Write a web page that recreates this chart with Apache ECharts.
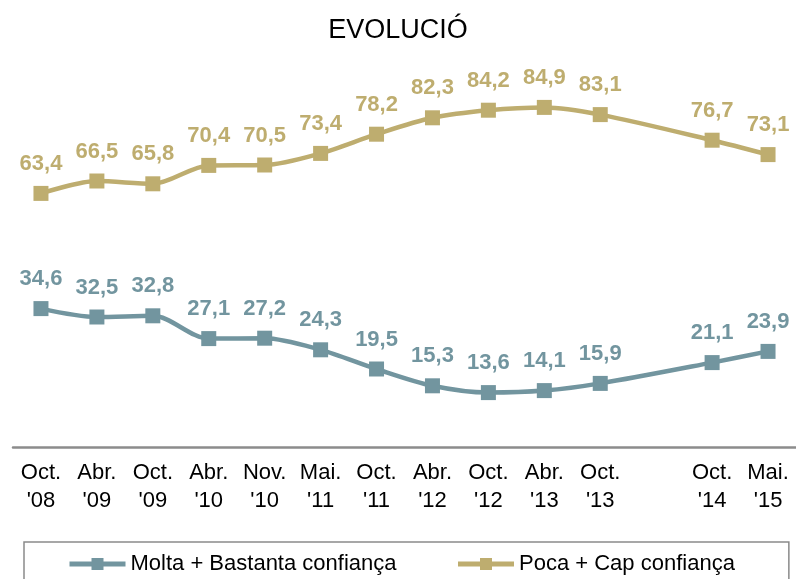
<!DOCTYPE html>
<html>
<head>
<meta charset="utf-8">
<script src="https://cdn.jsdelivr.net/npm/echarts@6/dist/echarts.min.js"></script>
<style>
  html, body { margin: 0; padding: 0; background: #fff; }
  #chart { width: 796px; height: 579px; }
</style>
</head>
<body>
<div id="chart"></div>
<script>
// categories (one empty slot between Oct '13 and Oct '14)
const periods = ["Oct.\n'08", "Abr.\n'09", "Oct.\n'09", "Abr.\n'10", "Nov.\n'10", "Mai.\n'11",
  "Oct.\n'11", "Abr.\n'12", "Oct.\n'12", "Abr.\n'13", "Oct.\n'13", "", "Oct.\n'14", "Mai.\n'15"];
const moltaBastanta = [34.6, 32.5, 32.8, 27.1, 27.2, 24.3, 19.5, 15.3, 13.6, 14.1, 15.9, null, 21.1, 23.9];
const pocaCap = [63.4, 66.5, 65.8, 70.4, 70.5, 73.4, 78.2, 82.3, 84.2, 84.9, 83.1, null, 76.7, 73.1];

const font = "'Liberation Sans', Arial, sans-serif";
const teal = '#72959f';
const gold = '#bead6f';

function makeSeries(name, data, color) {
  return {
    name: name,
    type: 'line',
    data: data,
    smooth: 0.3,
    connectNulls: true,
    symbol: 'rect',
    symbolSize: 15,
    lineStyle: { color: color, width: 4.5 },
    itemStyle: { color: color },
    label: {
      show: true,
      position: 'top',
      distance: 11,
      color: color,
      fontFamily: font,
      fontWeight: 'bold',
      fontSize: 22,
      formatter: p => p.value.toFixed(1).replace('.', ',')
    },
    emphasis: { disabled: true }
  };
}

const chart = echarts.init(document.getElementById('chart'));
chart.setOption({
  animation: false,
  title: {
    text: 'EVOLUCIÓ',
    left: 'center',
    top: 12,
    textStyle: { fontFamily: font, fontSize: 27, fontWeight: 'normal', color: '#000' }
  },
  legend: {
    left: 24,
    top: 542,
    padding: [11, 54, 30, 43],
    borderColor: '#8a8a8a',
    borderWidth: 1.5,
    itemWidth: 56,
    itemHeight: 15,
    itemGap: 59,
    lineStyle: { width: 5 },
    textStyle: { fontFamily: font, fontSize: 22, color: '#000' },
    data: ['Molta + Bastanta confiança', 'Poca + Cap confiança']
  },
  grid: { left: 13, right: -1, top: 47, bottom: 132 },
  xAxis: {
    type: 'category',
    data: periods,
    boundaryGap: true,
    axisLine: { lineStyle: { color: '#8c8c8c', width: 2.5 } },
    axisTick: { show: false },
    axisLabel: {
      interval: 0,
      margin: 12,
      color: '#000',
      fontFamily: font,
      fontSize: 22,
      lineHeight: 28
    }
  },
  yAxis: {
    type: 'value',
    min: 0,
    max: 100,
    show: false
  },
  series: [
    makeSeries('Molta + Bastanta confiança', moltaBastanta, teal),
    makeSeries('Poca + Cap confiança', pocaCap, gold)
  ]
});
</script>
</body>
</html>
